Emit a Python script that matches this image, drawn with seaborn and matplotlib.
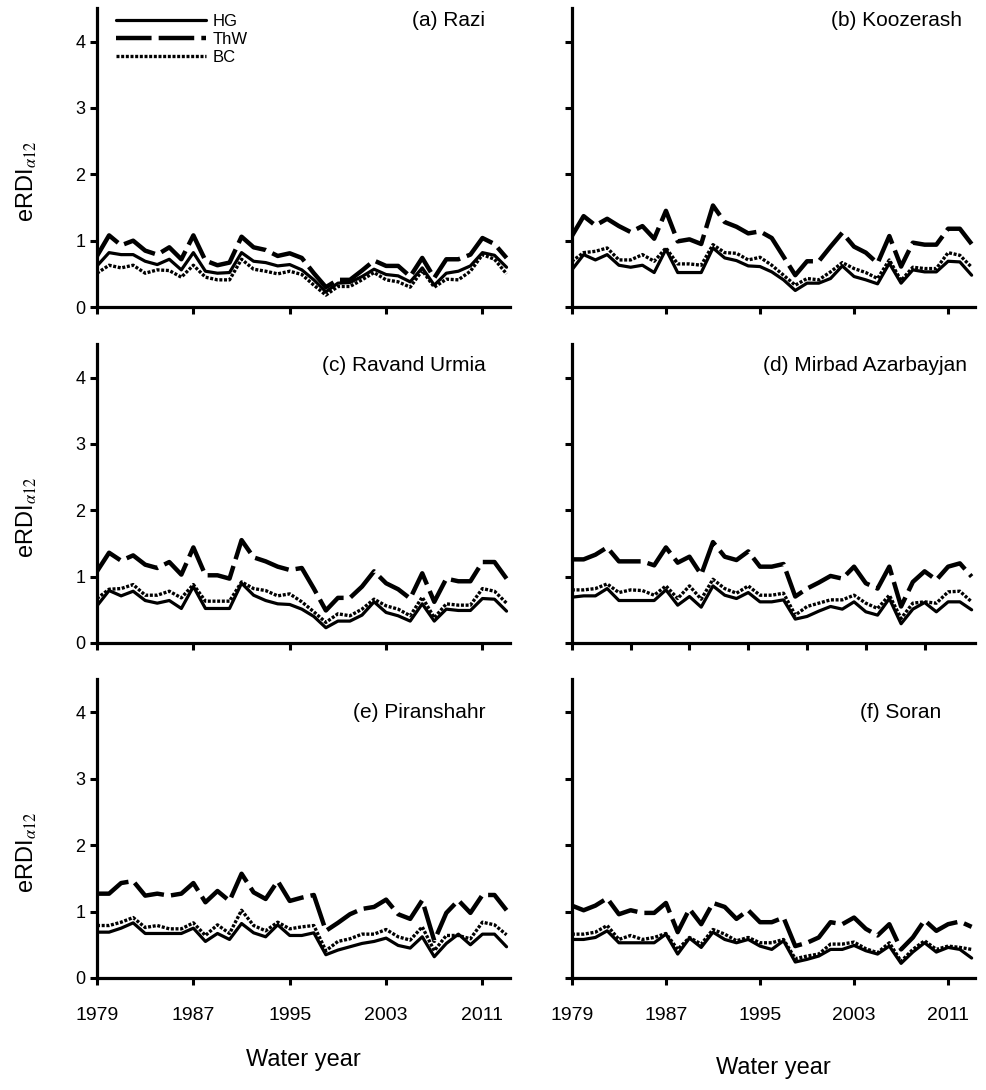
import pandas as pd
import matplotlib
matplotlib.use("Agg")
import matplotlib.pyplot as plt
import seaborn as sns

sns.set_style("ticks", {'axes.edgecolor': 'black', 'text.color': 'black',
                        'axes.labelcolor': 'black', 'xtick.color': 'black',
                        'ytick.color': 'black'})
plt.rcParams['font.family'] = ['Liberation Sans', 'DejaVu Sans']
plt.rcParams['mathtext.fontset'] = 'stix'

# water years
years = list(range(1979, 2014))

series_names = ['HG', 'ThW', 'BC']

# (a) Razi
a_hg = [0.62, 0.82, 0.79, 0.79, 0.69, 0.64, 0.72, 0.56, 0.82, 0.54,
        0.51, 0.52, 0.82, 0.69, 0.67, 0.62, 0.64, 0.56, 0.41, 0.23,
        0.36, 0.37, 0.46, 0.57, 0.49, 0.47, 0.38, 0.59, 0.33, 0.51,
        0.54, 0.62, 0.82, 0.78, 0.60]
a_thw = [0.77, 1.08, 0.93, 1.00, 0.85, 0.79, 0.90, 0.72, 1.08, 0.70,
         0.63, 0.67, 1.06, 0.90, 0.86, 0.77, 0.81, 0.74, 0.51, 0.30,
         0.41, 0.41, 0.55, 0.70, 0.62, 0.62, 0.46, 0.74, 0.44, 0.72,
         0.72, 0.79, 1.04, 0.95, 0.74]
a_bc = [0.51, 0.63, 0.59, 0.63, 0.51, 0.56, 0.55, 0.45, 0.63, 0.45,
        0.41, 0.41, 0.72, 0.57, 0.54, 0.50, 0.54, 0.49, 0.33, 0.18,
        0.31, 0.31, 0.41, 0.52, 0.41, 0.38, 0.30, 0.55, 0.30, 0.42,
        0.41, 0.54, 0.79, 0.72, 0.50]

# (b) Koozerash
b_hg = [0.56, 0.79, 0.71, 0.79, 0.63, 0.60, 0.63, 0.52, 0.87, 0.52,
        0.52, 0.52, 0.89, 0.74, 0.70, 0.62, 0.61, 0.53, 0.41, 0.25,
        0.36, 0.36, 0.43, 0.62, 0.46, 0.41, 0.35, 0.66, 0.36, 0.56,
        0.53, 0.53, 0.69, 0.68, 0.48]
b_thw = [1.07, 1.37, 1.23, 1.33, 1.22, 1.13, 1.22, 1.03, 1.45, 0.99,
         1.02, 0.95, 1.53, 1.28, 1.21, 1.11, 1.14, 1.04, 0.76, 0.48,
         0.69, 0.69, 0.91, 1.12, 0.91, 0.82, 0.66, 1.07, 0.61, 0.97,
         0.94, 0.94, 1.18, 1.18, 0.95]
b_bc = [0.69, 0.82, 0.84, 0.89, 0.71, 0.71, 0.79, 0.69, 0.89, 0.65,
        0.65, 0.63, 0.94, 0.82, 0.81, 0.71, 0.75, 0.63, 0.48, 0.33,
        0.43, 0.41, 0.53, 0.67, 0.58, 0.52, 0.43, 0.71, 0.40, 0.60,
        0.58, 0.58, 0.82, 0.78, 0.60]

# (c) Ravand Urmia
c_hg = [0.56, 0.79, 0.71, 0.78, 0.64, 0.60, 0.64, 0.52, 0.85, 0.52,
        0.52, 0.52, 0.90, 0.72, 0.64, 0.59, 0.58, 0.51, 0.40, 0.23,
        0.33, 0.33, 0.42, 0.62, 0.46, 0.41, 0.33, 0.59, 0.33, 0.51,
        0.49, 0.49, 0.67, 0.66, 0.48]
c_thw = [1.08, 1.36, 1.24, 1.32, 1.18, 1.13, 1.22, 1.03, 1.44, 1.02,
         1.02, 0.97, 1.55, 1.29, 1.23, 1.15, 1.10, 1.13, 0.82, 0.49,
         0.68, 0.68, 0.85, 1.08, 0.90, 0.81, 0.67, 1.05, 0.62, 0.97,
         0.93, 0.93, 1.22, 1.22, 0.97]
c_bc = [0.67, 0.81, 0.82, 0.88, 0.72, 0.72, 0.78, 0.68, 0.88, 0.63,
        0.63, 0.63, 0.92, 0.82, 0.79, 0.71, 0.74, 0.62, 0.47, 0.31,
        0.44, 0.41, 0.51, 0.66, 0.56, 0.51, 0.41, 0.69, 0.38, 0.59,
        0.57, 0.57, 0.82, 0.78, 0.60]

# (d) Mirbad Azarbayjan
d_hg = [0.69, 0.71, 0.71, 0.82, 0.64, 0.64, 0.64, 0.64, 0.80, 0.57,
        0.70, 0.54, 0.86, 0.72, 0.67, 0.76, 0.62, 0.62, 0.65, 0.36,
        0.40, 0.48, 0.55, 0.51, 0.62, 0.47, 0.42, 0.67, 0.29, 0.51,
        0.61, 0.47, 0.62, 0.62, 0.50]
d_thw = [1.26, 1.26, 1.33, 1.44, 1.23, 1.23, 1.23, 1.17, 1.44, 1.21,
         1.30, 1.03, 1.52, 1.30, 1.25, 1.38, 1.15, 1.15, 1.19, 0.70,
         0.82, 0.91, 1.01, 0.97, 1.15, 0.90, 0.82, 1.15, 0.55, 0.92,
         1.08, 0.95, 1.15, 1.20, 1.00]
d_bc = [0.80, 0.80, 0.82, 0.89, 0.76, 0.80, 0.79, 0.72, 0.86, 0.67,
        0.86, 0.66, 0.96, 0.82, 0.75, 0.86, 0.72, 0.72, 0.75, 0.42,
        0.55, 0.60, 0.65, 0.65, 0.72, 0.60, 0.52, 0.72, 0.37, 0.60,
        0.62, 0.60, 0.77, 0.78, 0.62]

# (e) Piranshahr
e_hg = [0.69, 0.69, 0.75, 0.83, 0.67, 0.67, 0.67, 0.67, 0.75, 0.55,
        0.67, 0.58, 0.82, 0.68, 0.62, 0.80, 0.64, 0.64, 0.68, 0.35,
        0.42, 0.47, 0.52, 0.55, 0.60, 0.49, 0.45, 0.62, 0.32, 0.52,
        0.66, 0.50, 0.66, 0.66, 0.47]
e_thw = [1.27, 1.27, 1.43, 1.46, 1.24, 1.27, 1.24, 1.27, 1.43, 1.14,
         1.31, 1.16, 1.57, 1.29, 1.19, 1.46, 1.16, 1.21, 1.25, 0.71,
         0.83, 0.96, 1.04, 1.07, 1.18, 0.96, 0.89, 1.17, 0.56, 0.98,
         1.17, 0.98, 1.25, 1.25, 1.02]
e_bc = [0.79, 0.79, 0.84, 0.91, 0.76, 0.79, 0.74, 0.74, 0.83, 0.64,
        0.80, 0.67, 1.02, 0.79, 0.71, 0.84, 0.74, 0.77, 0.79, 0.41,
        0.55, 0.59, 0.66, 0.66, 0.73, 0.62, 0.57, 0.77, 0.41, 0.64,
        0.64, 0.59, 0.84, 0.80, 0.65]

# (f) Soran
f_hg = [0.58, 0.58, 0.61, 0.71, 0.53, 0.53, 0.53, 0.53, 0.66, 0.36,
        0.60, 0.46, 0.69, 0.58, 0.53, 0.58, 0.48, 0.43, 0.56, 0.24,
        0.28, 0.33, 0.43, 0.43, 0.49, 0.41, 0.36, 0.48, 0.22, 0.39,
        0.53, 0.39, 0.46, 0.43, 0.30]
f_thw = [1.09, 1.02, 1.09, 1.20, 0.96, 1.02, 0.98, 0.98, 1.13, 0.69,
         1.04, 0.81, 1.13, 1.07, 0.89, 1.02, 0.84, 0.84, 0.91, 0.48,
         0.53, 0.61, 0.84, 0.81, 0.91, 0.74, 0.64, 0.81, 0.43, 0.61,
         0.87, 0.71, 0.81, 0.85, 0.77]
f_bc = [0.66, 0.66, 0.69, 0.79, 0.58, 0.64, 0.58, 0.61, 0.67, 0.43,
        0.61, 0.51, 0.73, 0.66, 0.56, 0.61, 0.53, 0.53, 0.58, 0.29,
        0.33, 0.36, 0.51, 0.51, 0.54, 0.44, 0.38, 0.53, 0.25, 0.43,
        0.56, 0.43, 0.48, 0.46, 0.43]

panel_titles = ['(a) Razi', '(b) Koozerash', '(c) Ravand Urmia',
                '(d) Mirbad Azarbayjan', '(e) Piranshahr', '(f) Soran']
panel_data = [(a_hg, a_thw, a_bc), (b_hg, b_thw, b_bc), (c_hg, c_thw, c_bc),
              (d_hg, d_thw, d_bc), (e_hg, e_thw, e_bc), (f_hg, f_thw, f_bc)]

xticks_main = [1979, 1987, 1995, 2003, 2011]
xticks_d = [1979, 1984, 1989, 1994, 1999, 2004, 2009]
yticks = [0, 1, 2, 3, 4]

line_styles = {'HG': dict(linestyle='-', lw=2.3),
               'ThW': dict(linestyle=(0, (8, 1.6)), lw=3.2),
               'BC': dict(linestyle=(0, (0.9, 0.5)), lw=2.4)}

fig = plt.figure(figsize=(9.86, 10.9), dpi=100)

# axes placement [left, bottom, width, height] in figure fraction
col_x = [(0.0984, 0.419), (0.580, 0.409)]
row_y = [0.7183, 0.4101, 0.1028]
ax_h = 0.2740
# title anchors per panel (x, y) in axes fraction
title_pos = [(0.94, 0.96), (0.968, 0.96), (0.94, 0.93),
             (0.98, 0.93), (0.94, 0.89), (0.915, 0.89)]

axes = []
for i in range(6):
    r, c = divmod(i, 2)
    x0, w = col_x[c]
    ax = fig.add_axes([x0, row_y[r], w, ax_h])
    axes.append(ax)

    hg, thw, bc = panel_data[i]
    df = pd.DataFrame({'year': years, 'HG': hg, 'ThW': thw, 'BC': bc})
    for name in series_names:
        sns.lineplot(data=df, x='year', y=name, ax=ax, color='black',
                     label=name if i == 0 else None, **line_styles[name])

    ax.set_xlim(1979, 2013.3)
    ax.set_ylim(0, 4.5)
    ax.set_yticks(yticks)
    ax.set_xticks(xticks_d if i == 3 else xticks_main)
    sns.despine(ax=ax)
    for s in ['left', 'bottom']:
        ax.spines[s].set_linewidth(2.3)
        ax.spines[s].set_color('black')
    ax.tick_params(axis='both', direction='out', length=5, width=2.2,
                   labelsize=13, colors='black')

    if c == 0:
        ax.set_ylabel(r'eRDI$_{\alpha12}$', fontsize=17)
        ax.yaxis.set_label_coords(-0.14, 0.42)
    else:
        ax.set_ylabel('')
        ax.set_yticklabels([])

    if r == 2:
        ax.set_xlabel('Water year', fontsize=17, labelpad=18)
        ax.tick_params(axis='x', pad=16, labelsize=14)
    else:
        ax.set_xlabel('')
        ax.set_xticklabels([])

    tx, ty = title_pos[i]
    ax.text(tx, ty, panel_titles[i], transform=ax.transAxes, ha='right',
            va='center', fontsize=15, color='black')

    if i == 0:
        ax.legend(loc='upper left', bbox_to_anchor=(0.03, 1.005), frameon=False,
                  fontsize=12, handlelength=5.4, labelspacing=0.2,
                  handletextpad=0.4, borderaxespad=0.0)
    else:
        leg = ax.get_legend()
        if leg is not None:
            leg.remove()

# right column xlabel sits slightly lower
axes[5].xaxis.labelpad = 24

fig.savefig('out.png', dpi=100)
